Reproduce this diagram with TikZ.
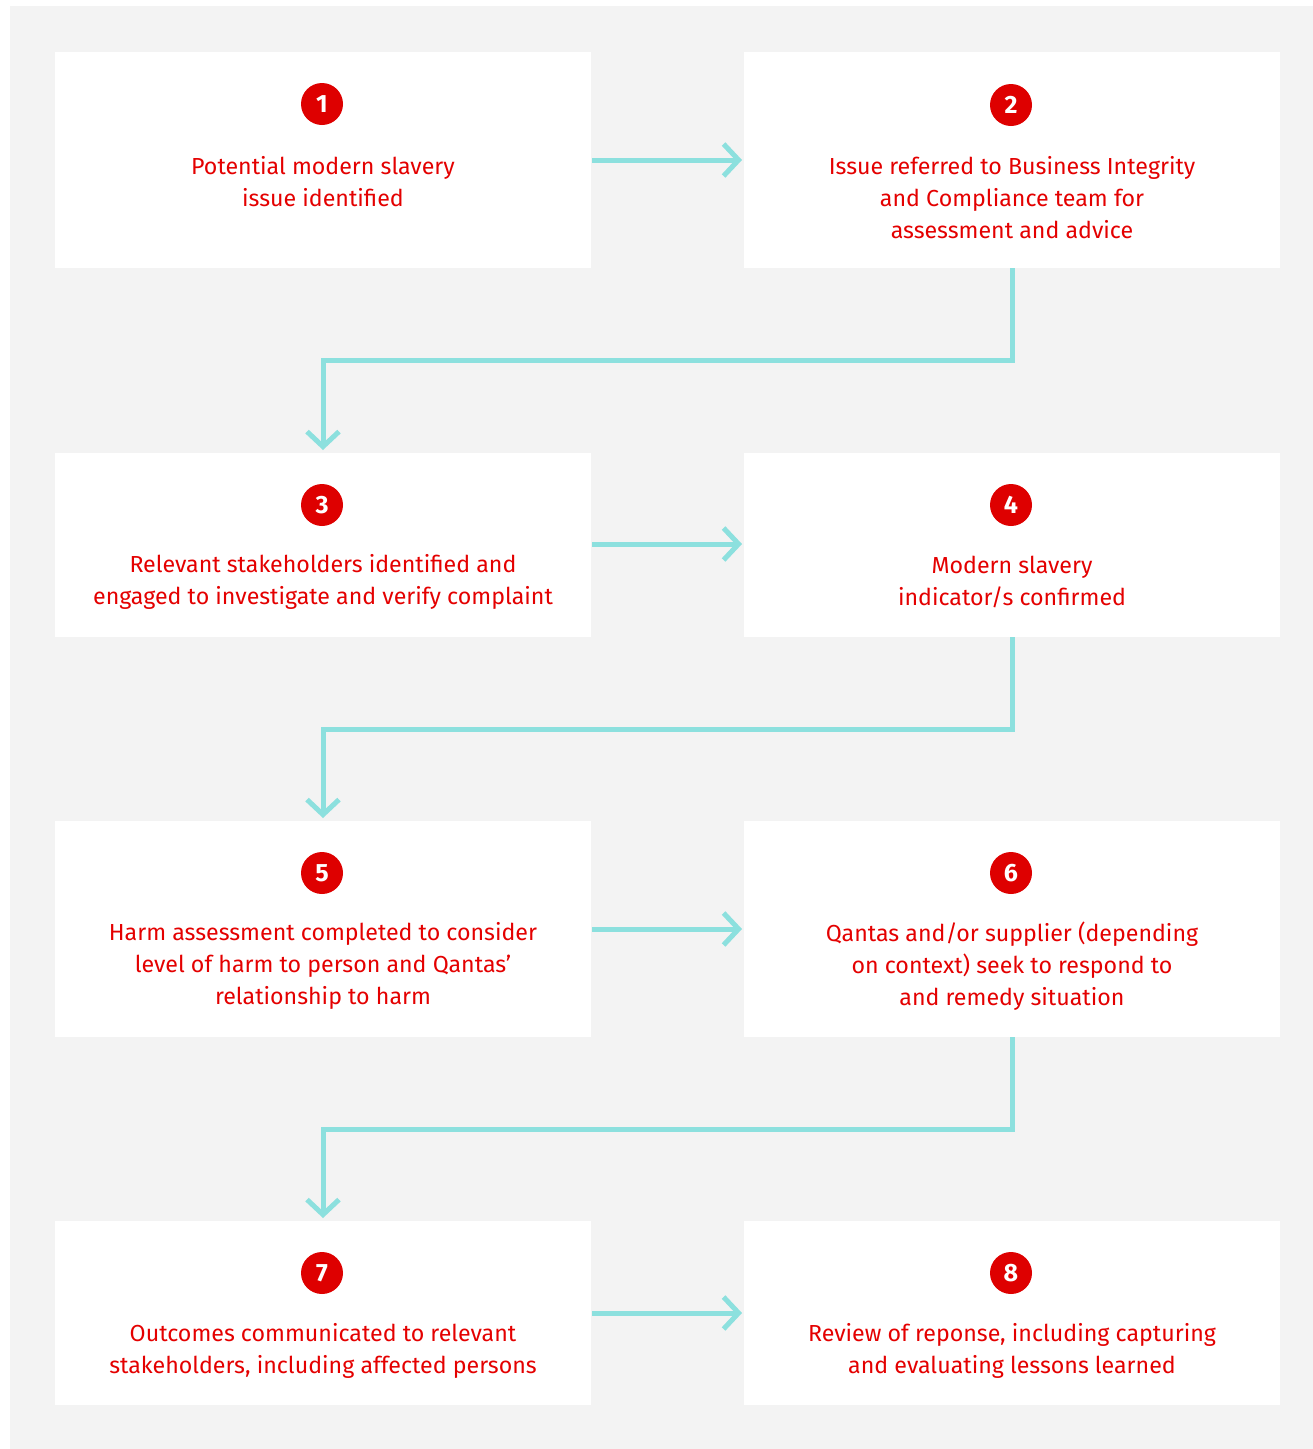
\documentclass[tikz,border=0pt]{standalone}
\usepackage{fontspec}
\setmainfont{Fira Sans}
\usetikzlibrary{arrows.meta}
\definecolor{bggray}{RGB}{243,243,243}
\definecolor{qred}{RGB}{228,0,0}
\definecolor{cred}{RGB}{222,0,0}
\definecolor{teal}{RGB}{140,224,222}
\tikzset{
  stepbox/.style={fill=white, draw=none},
  numcirc/.style={circle, fill=cred, minimum size=42pt, inner sep=0pt, text=white, font=\fontsize{25}{25}\selectfont\bfseries},
  steptext/.style={text=qred, align=center, font=\fontsize{23.2}{32}\selectfont, inner sep=0pt},
  conn/.style={draw=teal, line width=5pt, -{Straight Barb[length=15pt, width=32pt, line width=5pt]}},
}
\begin{document}
\begin{tikzpicture}[x=1pt, y=-1pt]
\useasboundingbox (0,0) rectangle (1313,1449);
\fill[white] (0,0) rectangle (1313,1449);
\fill[bggray] (10,6) rectangle (1313,1449);
% boxes
\path[stepbox] (55,52) rectangle (591,268);
\path[stepbox] (744,52) rectangle (1280,268);
\path[stepbox] (55,453) rectangle (591,637);
\path[stepbox] (744,453) rectangle (1280,637);
\path[stepbox] (55,821) rectangle (591,1037);
\path[stepbox] (744,821) rectangle (1280,1037);
\path[stepbox] (55,1221) rectangle (591,1405);
\path[stepbox] (744,1221) rectangle (1280,1405);
% anchor coordinates
\coordinate (b1r) at (592,160);
\coordinate (b2l) at (742,160);
\coordinate (b2b) at (1012,268);
\coordinate (b3t) at (323,450);
\coordinate (b3r) at (592,544);
\coordinate (b4l) at (742,544);
\coordinate (b4b) at (1012,637);
\coordinate (b5t) at (323,818);
\coordinate (b5r) at (592,929);
\coordinate (b6l) at (742,929);
\coordinate (b6b) at (1012,1037);
\coordinate (b7t) at (323,1218);
\coordinate (b7r) at (592,1313);
\coordinate (b8l) at (742,1313);
% circles
\node[numcirc] (n1) at (322,104) {1};
\node[numcirc] (n2) at (1011,105) {2};
\node[numcirc] (n3) at (322,505) {3};
\node[numcirc] (n4) at (1011,505) {4};
\node[numcirc] (n5) at (322,873) {5};
\node[numcirc] (n6) at (1011,873) {6};
\node[numcirc] (n7) at (322,1273) {7};
\node[numcirc] (n8) at (1011,1273) {8};
% texts
\node[steptext] (t1) at (323,182) {Potential modern slavery\\issue identified};
\node[steptext] (t2) at (1012,198) {Issue referred to Business Integrity\\and Compliance team for\\assessment and advice};
\node[steptext] (t3) at (323,582) {Relevant stakeholders identified and\\engaged to investigate and verify complaint};
\node[steptext] (t4) at (1012,582) {Modern slavery\\indicator/s confirmed};
\node[steptext] (t5) at (323,966) {Harm assessment completed to consider\\level of harm to person and Qantas’\\relationship to harm};
\node[steptext] (t6) at (1012,966) {Qantas and/or supplier (depending\\on context) seek to respond to\\and remedy situation};
\node[steptext] (t7) at (323,1351) {Outcomes communicated to relevant\\stakeholders, including affected persons};
\node[steptext] (t8) at (1012,1351) {Review of reponse, including capturing\\and evaluating lessons learned};
% connectors
\draw[conn] (b1r) -- (b2l);
\draw[conn] (b2b) -- (1012,360) -- (323,360) -- (b3t);
\draw[conn] (b3r) -- (b4l);
\draw[conn] (b4b) -- (1012,729) -- (323,729) -- (b5t);
\draw[conn] (b5r) -- (b6l);
\draw[conn] (b6b) -- (1012,1129) -- (323,1129) -- (b7t);
\draw[conn] (b7r) -- (b8l);
\end{tikzpicture}
\end{document}
